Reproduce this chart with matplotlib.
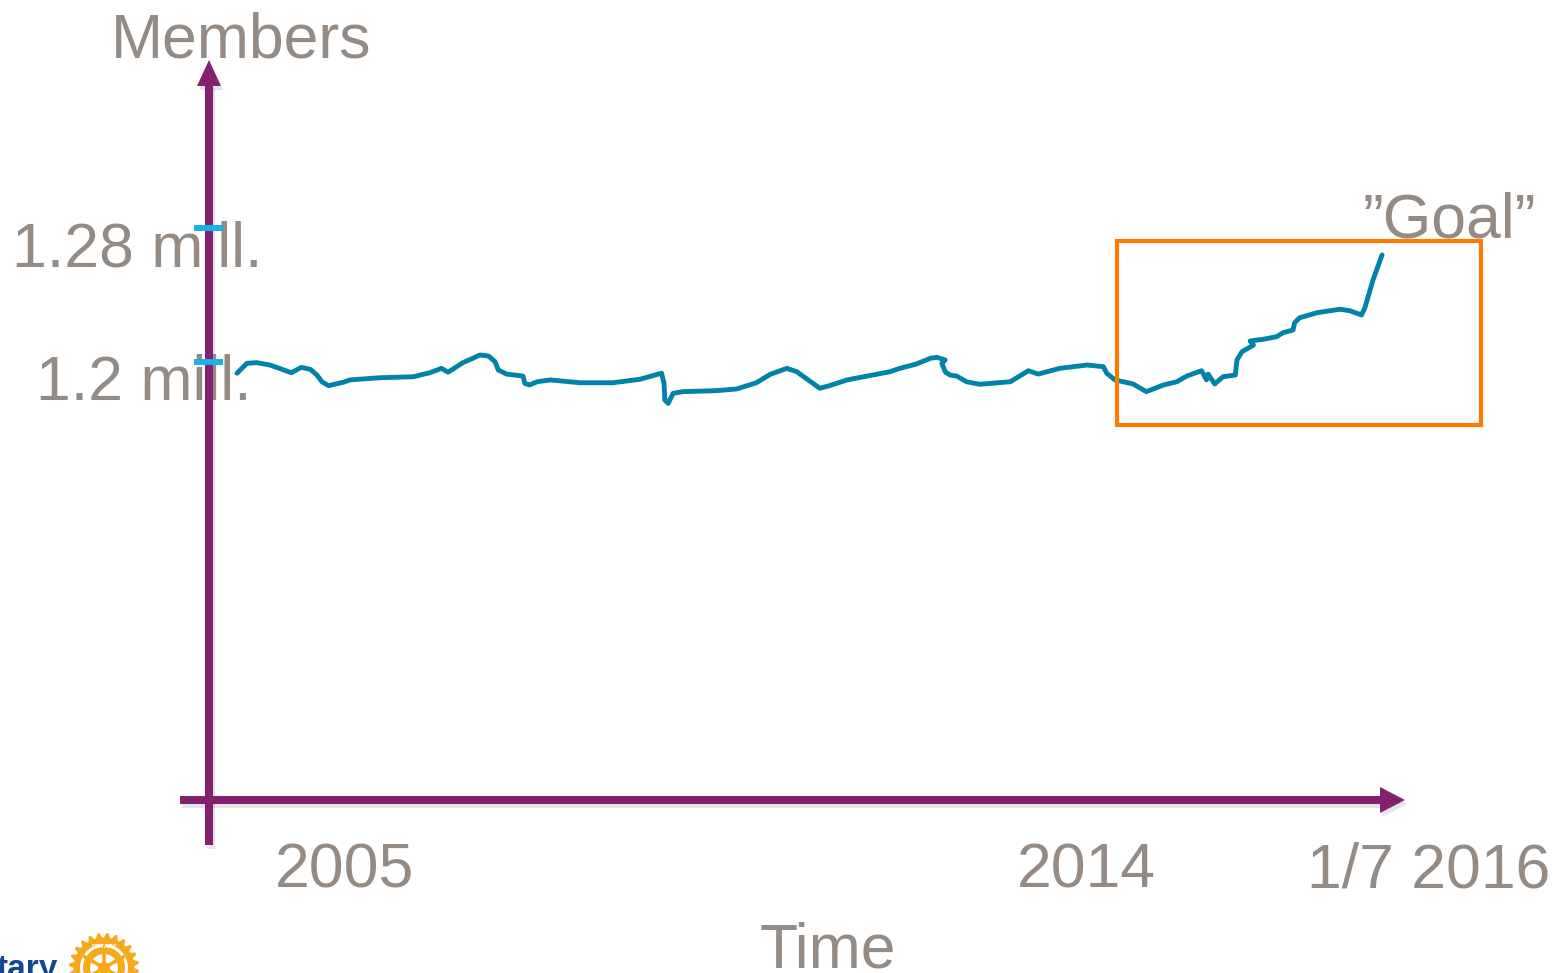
import matplotlib
matplotlib.use("Agg")
import matplotlib.pyplot as plt
from matplotlib.patches import Polygon, Rectangle
import numpy as np

# ---------------- data ----------------
years = [2003.69, 2003.81, 2003.93, 2004.09, 2004.35, 2004.47, 2004.58, 2004.66, 2004.72, 2004.80,
         2004.98, 2005.06, 2005.42, 2005.83, 2006.03, 2006.17, 2006.25, 2006.43, 2006.64, 2006.74,
         2006.82, 2006.86, 2006.96, 2007.16, 2007.18, 2007.24, 2007.33, 2007.49, 2007.85, 2008.25,
         2008.58, 2008.84, 2008.87, 2008.88, 2008.92, 2008.98, 2009.10, 2009.51, 2009.75, 2009.99,
         2010.16, 2010.36, 2010.48, 2010.76, 2010.88, 2011.09, 2011.61, 2011.73, 2011.93, 2012.10,
         2012.18, 2012.28, 2012.24, 2012.28, 2012.34, 2012.42, 2012.54, 2012.70, 2013.07, 2013.29,
         2013.41, 2013.67, 2014.00, 2014.20, 2014.24, 2014.34, 2014.56, 2014.72, 2014.93, 2015.09,
         2015.21, 2015.39, 2015.45, 2015.47, 2015.55, 2015.65, 2015.80, 2015.82, 2015.88, 2016.02,
         2015.98, 2016.14, 2016.30, 2016.38, 2016.50, 2016.52, 2016.58, 2016.79, 2017.07, 2017.19,
         2017.33, 2017.37, 2017.47, 2017.58]
members_k = [1193.3, 1199.2, 1199.6, 1198.2, 1193.6, 1196.8, 1195.6, 1192.2, 1188.2, 1185.9,
             1187.9, 1189.3, 1190.6, 1191.2, 1193.6, 1196.2, 1193.9, 1199.6, 1204.2, 1203.6,
             1200.2, 1195.2, 1192.8, 1191.6, 1187.3, 1186.3, 1188.2, 1189.3, 1187.6, 1187.6,
             1189.7, 1193.3, 1187.3, 1177.3, 1175.3, 1181.3, 1182.3, 1182.9, 1183.9, 1187.6,
             1192.7, 1196.2, 1194.2, 1184.3, 1185.9, 1189.3, 1194.2, 1196.2, 1198.8, 1202.2,
             1202.8, 1201.2, 1199.2, 1194.2, 1192.2, 1191.6, 1188.2, 1186.7, 1188.2, 1194.8,
             1192.8, 1196.2, 1198.2, 1197.2, 1193.3, 1189.3, 1186.9, 1182.3, 1186.3, 1188.2,
             1191.6, 1194.8, 1189.3, 1192.8, 1186.9, 1191.2, 1192.2, 1201.2, 1206.1, 1210.1,
             1212.5, 1213.6, 1215.1, 1217.5, 1219.1, 1223.5, 1226.4, 1229.4, 1231.5, 1230.6,
             1228.1, 1232.1, 1249.0, 1263.9]
tick_values_k = [1200, 1280]
tick_labels = ["1.2 mill.", "1.28 mill."]
time_positions = [2005.0, 2014.0, 2018.15]
time_labels = ["2005", "2014", "1/7 2016"]
goal_years = [2014.36, 2018.78]
goal_members_k = [1162.4, 1272.2]

# ---------------- style ----------------
GREY = "#958b85"
PURPLE = "#82216f"
TEAL = "#0083a9"
ORANGE = "#ff7a00"
CYAN = "#18b2e6"
GOLD = "#f7a81b"
BLUE = "#17458f"
FONT = "Liberation Sans"

W, H = 1564, 973
fig = plt.figure(figsize=(W / 100, H / 100), dpi=100)
ax = fig.add_axes([0, 0, 1, 1])
XMIN, XMAX = 2000.815, 2019.787
YMIN, YMAX = 835.22, 1416.12
ax.set_xlim(XMIN, XMAX)
ax.set_ylim(YMIN, YMAX)
ax.axis("off")


def X(px):
    return XMIN + px / W * (XMAX - XMIN)


def Y(py):
    return YMAX - py / H * (YMAX - YMIN)


# ---- text labels (underneath the axes) ----
fs = 45
ax.text(X(241), Y(58), "Members", fontsize=fs, color=GREY, family=FONT, ha="center", va="baseline", zorder=1)
ax.text(X(828), Y(968), "Time", fontsize=fs, color=GREY, family=FONT, ha="center", va="baseline", zorder=1)
label_right = {1200: 252, 1280: 262}
label_drop = {1200: 38, 1280: 39}
for v, lab in zip(tick_values_k, tick_labels):
    dy = label_drop[v] * (YMAX - YMIN) / H
    ax.text(X(label_right[v]), v - dy, lab, fontsize=fs, color=GREY, family=FONT,
            ha="right", va="baseline", zorder=1)
for xp, lab in zip(time_positions, time_labels):
    ax.text(xp, Y(887), lab, fontsize=fs, color=GREY, family=FONT, ha="center", va="baseline", zorder=1)
ax.text(X(1449), Y(237), "\u201dGoal\u201d", fontsize=fs, color=GREY, family=FONT,
        ha="center", va="baseline", zorder=1)

# ---- purple arrow axes with soft shadow ----
lw_ax = 5.8
for (dx, dy, col, a, z) in [(2, 4, "#888888", 0.22, 2), (0, 0, PURPLE, 1.0, 3)]:
    ax.plot([X(209 + dx), X(209 + dx)], [Y(845 + dy), Y(84 + dy)], color=col, lw=lw_ax,
            alpha=a, solid_capstyle="butt", zorder=z)
    ax.plot([X(180 + dx), X(1382 + dx)], [Y(800 + dy), Y(800 + dy)], color=col, lw=lw_ax,
            alpha=a, solid_capstyle="butt", zorder=z)
    ax.add_patch(Polygon([(X(209 + dx), Y(60 + dy)), (X(197 + dx), Y(86 + dy)), (X(221 + dx), Y(86 + dy))],
                         closed=True, facecolor=col, edgecolor="none", alpha=a, zorder=z))
    ax.add_patch(Polygon([(X(1405 + dx), Y(800 + dy)), (X(1380 + dx), Y(787 + dy)), (X(1380 + dx), Y(813 + dy))],
                         closed=True, facecolor=col, edgecolor="none", alpha=a, zorder=z))

# ---- cyan value ticks ----
for v in tick_values_k:
    ax.plot([X(194), X(223)], [v, v], color=CYAN, lw=4.3, solid_capstyle="butt", zorder=4)

# ---- member line ----
ax.plot(years, members_k, color=TEAL, lw=3.5, solid_joinstyle="round", solid_capstyle="round", zorder=5)

# ---- goal box ----
ax.add_patch(Rectangle((goal_years[0], goal_members_k[0]), goal_years[1] - goal_years[0],
                       goal_members_k[1] - goal_members_k[0], fill=False, edgecolor=ORANGE,
                       lw=3.0, zorder=6))

# ---- Rotary logo fragment (bottom left) ----
ax.text(X(-3), Y(978), "tary", fontsize=24, color=BLUE, family=FONT, weight="bold",
        ha="left", va="baseline", zorder=7, clip_on=True)
cx, cy = 104, 968
n_teeth = 24
pts = []
for i in range(n_teeth * 4):
    ang = 2 * np.pi * i / (n_teeth * 4)
    r = 35 if (i % 4) in (1, 2) else 30.5
    pts.append((X(cx + r * np.cos(ang)), Y(cy + r * np.sin(ang))))
ax.add_patch(Polygon(pts, closed=True, facecolor=GOLD, edgecolor="none", zorder=7))
for r, col in [(24, "white"), (21, GOLD), (14, "white")]:
    cpts = [(X(cx + r * np.cos(t)), Y(cy + r * np.sin(t))) for t in np.linspace(0, 2 * np.pi, 80)]
    ax.add_patch(Polygon(cpts, closed=True, facecolor=col, edgecolor="none", zorder=8))
for k in range(6):
    t = 2 * np.pi * k / 6 + np.pi / 2
    ax.plot([X(cx + 5 * np.cos(t)), X(cx + 22 * np.cos(t))], [Y(cy + 5 * np.sin(t)), Y(cy + 22 * np.sin(t))],
            color=GOLD, lw=2.6, zorder=9)
hub = [(X(cx + 6 * np.cos(t)), Y(cy + 6 * np.sin(t))) for t in np.linspace(0, 2 * np.pi, 40)]
ax.add_patch(Polygon(hub, closed=True, facecolor=GOLD, edgecolor="none", zorder=9))
ax.text(X(cx), Y(947), "ROTARY", fontsize=4.5, color="white", family=FONT, weight="bold",
        ha="center", va="center", zorder=10)

fig.savefig("out.png", dpi=100, facecolor="white")
